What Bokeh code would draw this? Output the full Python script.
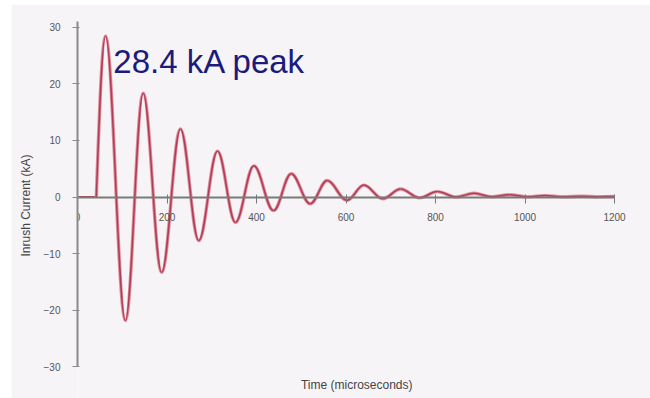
from bokeh.plotting import figure
from bokeh.models import FixedTicker, Label, ColumnDataSource
from bokeh.embed import file_html
from bokeh.resources import INLINE

# ---- data ----
# flat lead-in before the inrush starts (microseconds, kA)
lead_time = [0, 42]
lead_value = [0.0, 0.0]

# successive peaks / troughs of the inrush waveform (microseconds, kA)
extrema_time = [42, 62.6, 107, 146.7, 188, 230, 271, 312.8, 353, 394, 438,
                477.5, 520, 558, 602, 640, 682, 722, 764, 804, 846, 886,
                926, 965, 1005, 1045, 1085, 1125, 1165, 1200]
extrema_value = [0.0, 28.4, -21.8, 18.3, -13.3, 12.0, -7.7, 8.1, -4.5, 5.5, -2.4,
                 4.1, -1.2, 2.9, -0.6, 2.1, -0.3, 1.4, -0.15, 0.95, 0.0, 0.65,
                 0.05, 0.4, 0.05, 0.25, 0.05, 0.15, 0.05, 0.1]

x_ticks = [0, 200, 400, 600, 800, 1000, 1200]
y_ticks = [-30, -20, -10, 0, 10, 20, 30]
peak_value = 28.4

# ---- build half-cycle bezier segments from the extrema ----
x0, y0, x1, y1, cx0, cy0, cx1, cy1 = [], [], [], [], [], [], [], []
for i in range(len(extrema_time) - 1):
    ta, tb = extrema_time[i], extrema_time[i + 1]
    va, vb = extrema_value[i], extrema_value[i + 1]
    dt = tb - ta
    x0.append(ta); y0.append(va); x1.append(tb); y1.append(vb)
    if i == 0:
        cx0.append(ta + dt * 0.35); cy0.append(va + (vb - va) * 0.55)
    else:
        cx0.append(ta + dt * 0.3642); cy0.append(va)
    cx1.append(tb - dt * 0.3642); cy1.append(vb)

seg = ColumnDataSource(dict(x0=x0, y0=y0, x1=x1, y1=y1,
                            cx0=cx0, cy0=cy0, cx1=cx1, cy1=cy1))

BG = "#f7f4f7"
p = figure(width=639, height=394, margin=(4, 0, 0, 11),
           output_backend="svg", toolbar_location=None,
           x_range=(0, 1280.4), y_range=(-35.56, 32.56),
           min_border_left=66, min_border_right=0, min_border_top=8,
           min_border_bottom=0, background_fill_color=BG,
           border_fill_color=BG, outline_line_color=None)
p.grid.visible = False

# waveform
p.line(lead_time, lead_value, line_color="#b03a52", line_width=2)
p.bezier(x0="x0", y0="y0", x1="x1", y1="y1", cx0="cx0", cy0="cy0",
         cx1="cx1", cy1="cy1", source=seg, line_color="#dc8e9c", line_width=3.4)
p.bezier(x0="x0", y0="y0", x1="x1", y1="y1", cx0="cx0", cy0="cy0",
         cx1="cx1", cy1="cy1", source=seg, line_color="#b23c55", line_width=1.5)

# x axis drawn at zero
xa = p.xaxis[0]
xa.fixed_location = 0
xa.bounds = (0, 1200)
xa.ticker = FixedTicker(ticks=x_ticks)
xa.axis_line_color = "#7a7a7a"
xa.axis_line_width = 2
xa.major_tick_line_color = "#7a7a7a"
xa.major_tick_in = 3
xa.major_tick_out = 6
xa.minor_tick_line_color = None
xa.major_label_standoff = 10
xa.major_label_text_font = "Liberation Sans"
xa.major_label_text_font_size = "10px"
xa.major_label_text_color = "#555555"

ya = p.yaxis[0]
ya.bounds = (-30, 31)
ya.ticker = FixedTicker(ticks=y_ticks)
ya.axis_line_color = "#8a8a8a"
ya.axis_line_width = 2
ya.major_tick_line_color = "#8a8a8a"
ya.major_tick_in = 2
ya.major_tick_out = 5
ya.minor_tick_line_color = None
ya.major_label_standoff = 12
ya.major_label_text_font = "Liberation Sans"
ya.major_label_text_font_size = "10px"
ya.major_label_text_color = "#555555"
ya.axis_label = "Inrush Current (kA)"
ya.axis_label_text_font = "Liberation Sans"
ya.axis_label_text_font_size = "12px"
ya.axis_label_text_font_style = "normal"
ya.axis_label_text_color = "#444444"
ya.axis_label_standoff = 8

p.add_layout(Label(x=80, y=24.0, text=f"{peak_value} kA peak",
                   text_font="Liberation Sans", text_font_size="33px",
                   text_color="#1b1b7d", text_baseline="alphabetic"))
p.add_layout(Label(x=624, y=-33.26, text="Time (microseconds)",
                   text_font="Liberation Sans", text_font_size="12px",
                   text_color="#444444", text_align="center",
                   text_baseline="middle"))

open("out.html", "w").write(file_html(p, INLINE))
